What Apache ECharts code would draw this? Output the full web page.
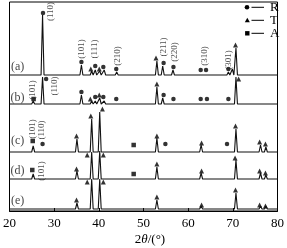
<!DOCTYPE html>
<html><head><meta charset="utf-8">
<script src="https://cdn.jsdelivr.net/npm/echarts@6/dist/echarts.min.js"></script>
<style>html,body{margin:0;padding:0;background:#fff}#c{width:287px;height:248px}</style>
</head><body><div id="c"></div>
<script>
// ---- data (2θ in degrees, intensity in arbitrary units) ----
var xTicks = [20, 30, 40, 50, 60, 70, 80];
var patternNames = ['(a)', '(b)', '(c)', '(d)', '(e)'];
var baselines = [136, 107, 59, 32, 2];
// peaks: [2θ, relative height]
var peaksA = [[27.4,60],[36.1,10],[38.4,4],[39.2,5],[40.2,4],[41.2,5],[44.0,3],[53.0,14],[54.3,9],[56.6,5],[62.7,2],[64.0,2],[69.0,3],[69.9,6],[70.7,27]];
var peaksB = [[25.3,3],[27.4,27],[36.1,9],[38.4,3],[39.2,3],[40.2,6],[41.2,3],[44.0,1.5],[53.0,17],[54.3,6],[56.6,2],[62.7,1],[64.0,1],[69.0,1],[70.7,27]];
var peaksC = [[25.3,6],[27.4,2],[35.1,13],[38.4,33],[40.2,40],[48.0,1],[53.0,14],[62.9,7],[70.7,23],[76.2,7],[77.4,5]];
var peaksD = [[25.3,5],[35.1,8],[38.4,27],[40.2,28],[48.0,0.5],[53.0,12],[62.9,6],[70.7,19],[76.2,6],[77.4,4]];
var peaksE = [[35.1,6],[38.4,30],[40.2,30],[53.0,9],[62.9,3],[70.7,16],[76.2,3],[77.4,3]];
// phase markers [2θ, intensity]
var markR = [[27.5,198],[36.1,149],[39.2,145],[41.0,144],[43.9,142],[54.5,148],[56.7,144],[62.8,141],[64.0,141],[69.0,142],
             [28.2,132],[36.1,119],[39.2,114],[41.0,114],[43.9,112],[54.5,116],[56.7,112],[62.8,112],[64.2,112],[69.0,112],
             [27.4,67],[54.9,67],[68.7,67]];
var markT = [[38.2,142],[40.1,142],[52.8,153],[70.6,166],
             [38.1,112],[40.1,116],[53.0,127],[71.3,132],
             [35.0,75],[38.2,95],[40.8,102],[53.0,75],[63.0,68],[70.6,85],[76.0,69],[77.3,67],
             [35.0,42],[37.4,56],[41.0,56],[53.0,47],[63.0,40],[70.5,53],[76.0,40],[77.3,38],
             [35.0,11],[37.4,29],[41.0,29],[53.0,14],[63.0,6],[70.6,21],[76.0,6],[77.3,5]];
var markA = [[25.4,112],[25.2,70],[47.8,66],[25.1,41],[47.8,37]];
// Miller index labels [2θ, intensity, text]
var hkl = [[29.1,199.5,'(110)'],[36.1,162,'(101)'],[39.1,162,'(111)'],[44.1,155,'(210)'],[54.5,164,'(211)'],[57.0,159,'(220)'],[63.8,155,'(310)'],[69.0,151,'(301)'],
           [25.2,121,'(101)'],[30.0,125,'(110)'],
           [25.2,82,'(101)'],[27.2,81,'(110)'],
           [27.2,40,'(101)']];
var legendItems = ['R', 'T', 'A'];

var serif = 'Liberation Serif';
var HW = 0.33;
function profile(peaks, base) {
  var pts = [[20, base]];
  peaks.forEach(function (p) {
    pts.push([p[0] - HW, base], [p[0], base + p[1]], [p[0] + HW, base]);
  });
  pts.push([80, base]);
  return pts;
}
var allPeaks = [peaksA, peaksB, peaksC, peaksD, peaksE];
var series = [];
allPeaks.forEach(function (pk, i) {
  series.push({type: 'line', data: profile(pk, baselines[i]), symbol: 'none', silent: true,
    lineStyle: {color: '#111', width: 1.1}});
});
var mk = {type: 'scatter', silent: true, itemStyle: {color: '#000'}};
series.push(Object.assign({}, mk, {data: markR, symbol: 'circle', symbolSize: 4.5}));
series.push(Object.assign({}, mk, {data: markT, symbol: 'triangle', symbolSize: 5}));
series.push(Object.assign({}, mk, {data: markA, symbol: 'rect', symbolSize: 4.5}));
series.push({type: 'scatter', silent: true, symbolSize: 0, data: hkl.map(function (h) { return {value: [h[0], h[1]], name: h[2]}; }),
  label: {show: true, position: 'inside', rotate: 90, formatter: '{b}', fontFamily: serif, fontSize: 9, color: '#222'}});
series.push({type: 'scatter', silent: true, symbolSize: 0,
  data: baselines.map(function (b, i) { return {value: [21.8, [144, 113, 70, 40, 10][i]], name: patternNames[i]}; }),
  label: {show: true, position: 'inside', formatter: '{b}', fontFamily: serif, fontSize: 12, color: '#111'}});

var chart = echarts.init(document.getElementById('c'), null, {renderer: 'canvas'});
var lgY = [7.3, 20.3, 33.3];
var graphics = [];
lgY.forEach(function (y, i) {
  var sym;
  if (i === 0) sym = {type: 'circle', shape: {cx: 247, cy: y, r: 2.3}, style: {fill: '#000'}};
  else if (i === 1) sym = {type: 'polygon', shape: {points: [[247.3, y - 2.6], [244.8, y + 1.9], [249.8, y + 1.9]]}, style: {fill: '#000'}};
  else sym = {type: 'rect', shape: {x: 245.1, y: y - 2.2, width: 4.4, height: 4.4}, style: {fill: '#000'}};
  graphics.push(sym);
  graphics.push({type: 'line', shape: {x1: 251.5, y1: y, x2: 264, y2: y}, style: {stroke: '#000', lineWidth: 1}});
  graphics.push({type: 'text', x: 270, y: y, style: {text: legendItems[i], font: '13px "' + serif + '"', fill: '#000', textVerticalAlign: 'middle'}});
});
graphics.push({type: 'text', x: 150, y: 240, style: {text: '{n|2}{t|θ}{n|/(°)}', rich: {n: {fontFamily: serif, fontSize: 13, fill: '#000'}, t: {fontFamily: serif, fontStyle: 'italic', fontSize: 13, fill: '#000'}}, textAlign: 'center', textVerticalAlign: 'middle'}});

chart.setOption({
  animation: false,
  grid: {left: 6, right: 4, top: 2, bottom: 37, show: true, borderColor: '#000', borderWidth: 1},
  xAxis: {type: 'value', min: xTicks[0], max: xTicks[xTicks.length - 1], interval: 10,
    axisLine: {lineStyle: {color: '#000', width: 1}},
    axisTick: {inside: true, length: 3, lineStyle: {color: '#000'}},
    axisLabel: {fontFamily: serif, fontSize: 13, color: '#000', margin: 6},
    splitLine: {show: false}},
  yAxis: {type: 'value', min: 0, max: 209, show: false},
  series: series,
  graphic: graphics
});
</script></body></html>
